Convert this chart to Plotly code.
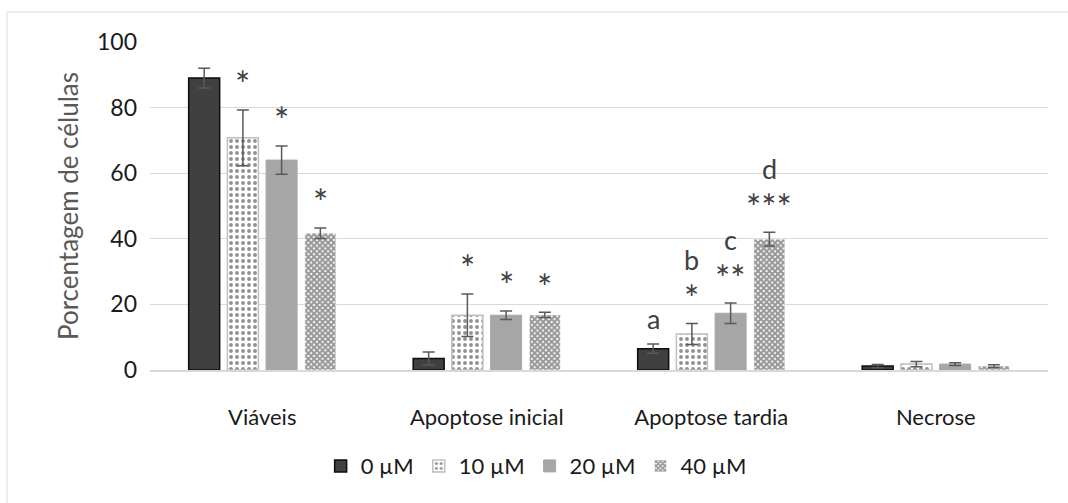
import plotly.graph_objects as go

# Cell populations after treatment (percentage of cells, mean ± SD)
categories = ["Viáveis", "Apoptose inicial", "Apoptose tardia", "Necrose"]
doses = ["0 µM", "10 µM", "20 µM", "40 µM"]

values_0 = [89.0, 3.5, 6.5, 1.2]
values_10 = [70.8, 16.7, 11.0, 1.8]
values_20 = [64.0, 16.7, 17.3, 1.8]
values_40 = [41.7, 16.8, 39.9, 1.2]

err_0 = [3.0, 2.0, 1.4, 0.5]
err_10 = [8.5, 6.5, 3.2, 0.8]
err_20 = [4.3, 1.3, 3.1, 0.4]
err_40 = [1.6, 0.8, 2.1, 0.4]

# Significance marks per dose and category
stars_0 = ["", "", "", ""]
stars_10 = ["*", "*", "*", ""]
stars_20 = ["*", "*", "**", ""]
stars_40 = ["*", "*", "***", ""]

letters_0 = ["", "", "a", ""]
letters_10 = ["", "", "b", ""]
letters_20 = ["", "", "c", ""]
letters_40 = ["", "", "d", ""]

series_values = [values_0, values_10, values_20, values_40]
series_errors = [err_0, err_10, err_20, err_40]
series_stars = [stars_0, stars_10, stars_20, stars_40]
series_letters = [letters_0, letters_10, letters_20, letters_40]

FONT = "Lato, 'Open Sans', sans-serif"

styles = [
    dict(color="#404040", line=dict(color="#0d0d0d", width=1.5)),
    dict(color="#ffffff", line=dict(color="#bfbfbf", width=1.5),
         pattern=dict(shape=".", fgcolor="#262626", bgcolor="#ffffff",
                      size=6, solidity=0.33, fillmode="overlay")),
    dict(color="#a6a6a6", line=dict(color="#a6a6a6", width=1)),
    dict(color="#ffffff", line=dict(color="#ffffff", width=0.5),
         pattern=dict(shape="x", fgcolor="#2e2e2e", bgcolor="#ffffff",
                      size=4, solidity=0.75, fillmode="overlay")),
]

fig = go.Figure()
for name, vals, errs, st in zip(doses, series_values, series_errors, styles):
    fig.add_trace(go.Bar(
        name=name, x=categories, y=vals,
        marker=st,
        error_y=dict(type="data", array=errs, visible=True,
                     color="#595959", thickness=1.5, width=6),
    ))

# layout geometry
L, R, T, B = 150, 20, 42, 133
W, H = 1068, 503
plot_w = W - L - R
plot_h = H - T - B
bargap = 0.31
slot = plot_w / len(categories) * (1 - bargap) / len(doses)

annotations = []
for i in range(len(doses)):
    vals, errs = series_values[i], series_errors[i]
    for cat, v, e, s, letter in zip(categories, vals, errs,
                                    series_stars[i], series_letters[i]):
        top = v + e
        if s:
            annotations.append(dict(
                x=cat, y=top + 7.8, xref="x", yref="y",
                text=s, showarrow=False, yanchor="middle",
                xshift=(i - 1.5) * slot,
                font=dict(family=FONT, size=36, color="#404040"),
            ))
        if letter:
            annotations.append(dict(
                x=cat, y=top + (19.5 if s else 7.8), xref="x", yref="y",
                text=letter, showarrow=False, yanchor="middle",
                xshift=(i - 1.5) * slot,
                font=dict(family=FONT, size=27, color="#404040"),
            ))

fig.update_layout(
    width=W, height=H,
    margin=dict(l=L, r=R, t=T, b=B),
    paper_bgcolor="white", plot_bgcolor="white",
    barmode="group", bargap=bargap, bargroupgap=0.2,
    font=dict(family=FONT, size=22, color="#1a1a1a"),
    showlegend=True,
    legend=dict(orientation="h", x=0.43, xanchor="center",
                y=-0.293, yanchor="middle",
                font=dict(family=FONT, size=22, color="#1a1a1a"),
                itemwidth=30, traceorder="normal"),
    annotations=annotations,
    shapes=[dict(type="rect", xref="paper", yref="paper",
                 x0=(7 - L) / plot_w, x1=1.2,
                 y0=-0.6, y1=1 + (T - 12) / plot_h,
                 line=dict(color="#d9d9d9", width=1), layer="below")],
)

fig.update_yaxes(
    range=[0, 100], dtick=20, showgrid=True, gridcolor="#d9d9d9", gridwidth=1,
    zeroline=False, showline=False, ticks="", ticklabelstandoff=12,
    tickfont=dict(family=FONT, size=23, color="#1a1a1a"),
    title=dict(text="Porcentagem de células", standoff=10,
               font=dict(family=FONT, size=26, color="#595959")),
)
fig.update_xaxes(
    showline=True, linecolor="#d9d9d9", linewidth=1.5, ticks="",
    ticklabelstandoff=27,
    tickfont=dict(family=FONT, size=22, color="#1a1a1a"),
)

fig.write_html("out.html")
